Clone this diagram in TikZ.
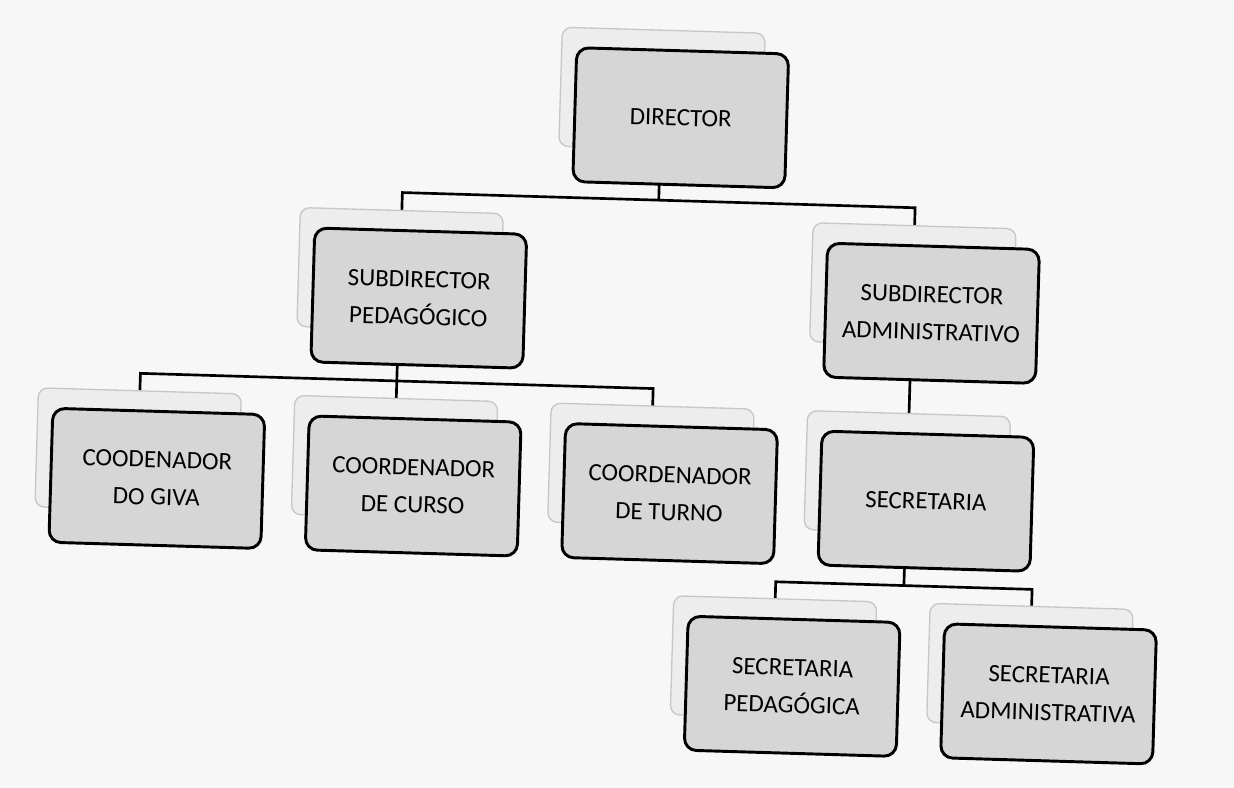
\documentclass[tikz,border=0pt]{standalone}
\usepackage{fontspec}
\setmainfont{Carlito}
\pgfdeclarelayer{paper}
\pgfdeclarelayer{lines}
\pgfsetlayers{paper,lines,main}
\begin{document}
\begin{tikzpicture}[x=0.75pt,y=-0.75pt,
  card/.style={draw=black, line width=2.2pt, fill=black!16, rounded corners=9pt,
    minimum width=159pt, minimum height=100.5pt, align=center,
    font=\fontsize{18.7}{28}\selectfont, inner sep=0pt, transform shape},
  backcard/.style={draw=black!22, line width=1pt, fill=black!7, rounded corners=7pt,
    minimum width=152.25pt, minimum height=89.25pt, inner sep=0pt, transform shape},
  link/.style={draw=black, line width=2pt}
]
\begin{pgfonlayer}{paper}
\fill[black!3] (0,0) rectangle (1234,788);
\end{pgfonlayer}
\useasboundingbox (0,0) rectangle (1234,788);
\begin{scope}[rotate around={-1.7:(617,394)}]
  % back shadow cards
  \node[backcard] (dirB)    at (653,    88.5) {};
  \node[backcard] (spedB)   at (396.5, 276.5) {};
  \node[backcard] (sadmB)   at (909.5, 276.5) {};
  \node[backcard] (givaB)   at (140,   464.5) {};
  \node[backcard] (cursoB)  at (396.5, 464.5) {};
  \node[backcard] (turnoB)  at (653,   464.5) {};
  \node[backcard] (secrB)   at (909.5, 464.5) {};
  \node[backcard] (secpedB) at (781.25, 653.5) {};
  \node[backcard] (secadmB) at (1037.75,653.5) {};
  % front cards
  \node[card] (dir)    at (672.5, 116) {DIRECTOR};
  \node[card] (sped)   at (416,   304) {SUBDIRECTOR\\PEDAGÓGICO};
  \node[card] (sadm)   at (929,   304) {SUBDIRECTOR\\ADMINISTRATIVO};
  \node[card] (giva)   at (159.5, 492) {COODENADOR\\DO GIVA};
  \node[card] (curso)  at (416,   492) {COORDENADOR\\DE CURSO};
  \node[card] (turno)  at (672.5, 492) {COORDENADOR\\DE TURNO};
  \node[card] (secr)   at (929,   492) {SECRETARIA};
  \node[card] (secped) at (800.75, 681) {SECRETARIA\\PEDAGÓGICA};
  \node[card] (secadm) at (1057.25,681) {SECRETARIA\\ADMINISTRATIVA};
  % bus coordinates
  \coordinate (bus1) at (653, 199);
  \coordinate (bus2) at (396.5, 387.5);
  \coordinate (bus4) at (909.5, 577);
  \begin{pgfonlayer}{lines}
    \draw[link] (dirB.center) -- (bus1);
    \draw[link] (spedB.center) |- (bus1) -| (sadmB.center);
    \draw[link] (spedB.center) -- (bus2);
    \draw[link] (givaB.center) |- (bus2) -| (turnoB.center);
    \draw[link] (cursoB.center) -- (bus2);
    \draw[link] (sadmB.center) -- (secrB.center);
    \draw[link] (secrB.center) -- (bus4);
    \draw[link] (secpedB.center) |- (bus4) -| (secadmB.center);
  \end{pgfonlayer}
\end{scope}
\end{tikzpicture}
\end{document}
